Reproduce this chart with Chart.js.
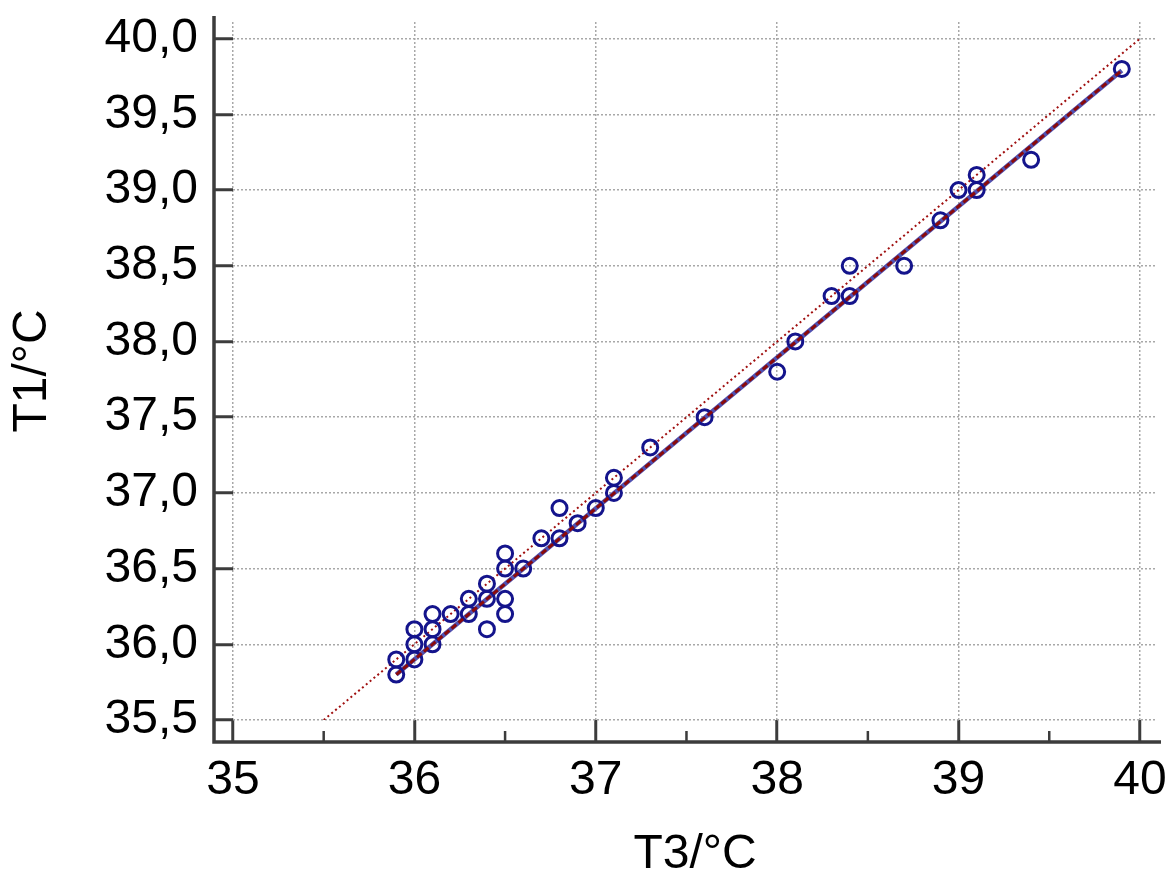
<!DOCTYPE html>
<html>
<head>
<meta charset="utf-8">
<script src="https://cdn.jsdelivr.net/npm/chart.js@4.4.1/dist/chart.umd.min.js"></script>
<style>
  html, body { margin: 0; padding: 0; background: #fff; }
  canvas { display: block; }
</style>
</head>
<body>
<canvas id="chart" width="1170" height="874"></canvas>
<script>
// Datos (T3 en el eje X, T1 en el eje Y)
const t3 = [35.9, 35.9, 36.0, 36.0, 36.0, 36.1, 36.1, 36.1, 36.2, 36.3,
            36.3, 36.4, 36.4, 36.4, 36.5, 36.5, 36.5, 36.5, 36.6, 36.7,
            36.8, 36.8, 36.9, 37.0, 37.1, 37.1, 37.3, 37.6, 38.0, 38.1,
            38.3, 38.4, 38.4, 38.7, 38.9, 39.0, 39.1, 39.1, 39.4, 39.9];
const t1 = [35.9, 35.8, 36.1, 36.0, 35.9, 36.2, 36.1, 36.0, 36.2, 36.3,
            36.2, 36.4, 36.3, 36.1, 36.6, 36.5, 36.3, 36.2, 36.5, 36.7,
            36.9, 36.7, 36.8, 36.9, 37.1, 37.0, 37.3, 37.5, 37.8, 38.0,
            38.3, 38.5, 38.3, 38.5, 38.8, 39.0, 39.1, 39.0, 39.2, 39.8];

// Recta de regresión (extremos leídos) y recta identidad
const fitX = [35.9, 39.9];
const fitY = [35.8, 39.79];
const idX = [35.5, 40.0];
const idY = [35.5, 40.0];

// Marcas de los ejes
const xTicks = [35, 36, 37, 38, 39, 40];
const xMinorTicks = [35.5, 36.5, 37.5, 38.5, 39.5];
const yTicks = [35.5, 36.0, 36.5, 37.0, 37.5, 38.0, 38.5, 39.0, 39.5, 40.0];

const FONT = "'Liberation Sans', Arial, sans-serif";
const AXIS_COLOR = "#3c3c3c";
const SPINE_OFFSET_X = 19;
const SPINE_OFFSET_Y = 22;

const toPoints = (xs, ys) => xs.map((x, i) => ({ x: x, y: ys[i] }));

// Ejes desplazados (estilo del original) y marcas menores del eje X
const spinePlugin = {
  id: "spines",
  afterDraw(chart) {
    const { ctx, chartArea } = chart;
    const xScale = chart.scales.x;
    const sx = chartArea.left - SPINE_OFFSET_X;
    const sy = chartArea.bottom + SPINE_OFFSET_Y;
    ctx.save();
    ctx.strokeStyle = AXIS_COLOR;
    ctx.lineWidth = 3.5;
    ctx.setLineDash([]);
    ctx.beginPath();
    ctx.moveTo(sx, chartArea.top - 6);
    ctx.lineTo(sx, sy);
    ctx.lineTo(chartArea.right + 4, sy);
    ctx.stroke();

    ctx.lineWidth = 2.5;
    ctx.beginPath();
    xMinorTicks.forEach((v) => {
      const px = xScale.getPixelForValue(v);
      ctx.moveTo(px, sy);
      ctx.lineTo(px, sy - 11);
    });
    ctx.stroke();
    ctx.restore();
  },
};

new Chart(document.getElementById("chart"), {
  type: "scatter",
  plugins: [spinePlugin],
  data: {
    datasets: [
      {
        label: "T1 vs T3",
        data: toPoints(t3, t1),
        showLine: false,
        pointStyle: "circle",
        pointRadius: 7.5,
        pointBorderWidth: 3,
        pointBorderColor: "#14148c",
        pointBackgroundColor: "rgba(0,0,0,0)",
        order: 1,
      },
      {
        label: "Identidad",
        data: toPoints(idX, idY),
        showLine: true,
        borderColor: "#a01010",
        borderWidth: 2,
        borderDash: [2, 3],
        pointRadius: 0,
        order: 3,
      },
      {
        label: "Regresión",
        data: toPoints(fitX, fitY),
        showLine: true,
        borderColor: "#5050b0",
        borderWidth: 4.5,
        pointRadius: 0,
        order: 2,
      },
      {
        label: "Regresión (trazos)",
        data: toPoints(fitX, fitY),
        showLine: true,
        borderColor: "#8b0a0a",
        borderWidth: 3,
        borderDash: [6, 3],
        pointRadius: 0,
        order: 0,
      },
    ],
  },
  options: {
    responsive: false,
    devicePixelRatio: 1,
    animation: false,
    layout: { padding: { top: 22, right: 13, left: 0, bottom: 0 } },
    plugins: {
      legend: { display: false },
      tooltip: { enabled: false },
    },
    scales: {
      x: {
        type: "linear",
        min: 35,
        max: 40.094,
        afterBuildTicks: (scale) => {
          scale.ticks = xTicks.map((v) => ({ value: v }));
        },
        afterFit: (scale) => {
          scale.height = 154;
          scale.paddingLeft = 0;
          scale.paddingRight = 0;
        },
        border: { display: false, dash: [2, 2] },
        grid: {
          color: "#a8a8a8",
          lineWidth: 1.5,
          drawTicks: true,
          tickLength: SPINE_OFFSET_Y,
          tickColor: AXIS_COLOR,
          tickWidth: 3,
          tickBorderDash: [],
        },
        ticks: {
          color: "#000",
          font: { family: FONT, size: 48 },
          padding: 10,
          maxRotation: 0,
          callback: (v) => String(v),
        },
        title: {
          display: true,
          text: "T3/°C",
          color: "#000",
          font: { family: FONT, size: 48, lineHeight: 0.8 },
          padding: 0,
        },
      },
      y: {
        type: "linear",
        min: 35.5,
        max: 40.11,
        afterBuildTicks: (scale) => {
          scale.ticks = yTicks.map((v) => ({ value: v }));
        },
        afterFit: (scale) => {
          scale.width = 233;
          scale.paddingTop = 0;
          scale.paddingBottom = 0;
        },
        border: { display: false, dash: [2, 2] },
        grid: {
          color: "#a8a8a8",
          lineWidth: 1.5,
          drawTicks: true,
          tickLength: SPINE_OFFSET_X,
          tickColor: AXIS_COLOR,
          tickWidth: 3,
          tickBorderDash: [],
        },
        ticks: {
          color: "#000",
          font: { family: FONT, size: 48 },
          padding: 16,
          callback: (v) => v.toFixed(1).replace(".", ","),
        },
        title: {
          display: true,
          text: "T1/°C",
          color: "#000",
          font: { family: FONT, size: 48 },
          padding: { top: 4, bottom: 0 },
        },
      },
    },
  },
});
</script>
</body>
</html>
